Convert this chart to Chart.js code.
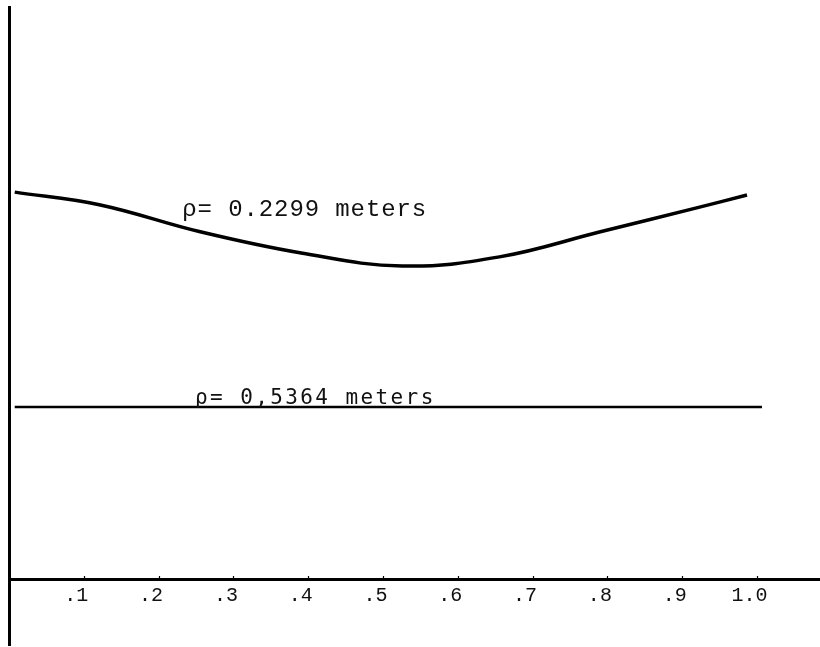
<!DOCTYPE html>
<html>
<head>
<meta charset="utf-8">
<script src="https://cdn.jsdelivr.net/npm/chart.js@4.4.1/dist/chart.umd.min.js"></script>
<style>
html,body{margin:0;padding:0;background:#fff;}
#wrap{width:820px;height:647px;}
</style>
</head>
<body>
<div id="wrap"><canvas id="c"></canvas></div>
<script>
// x positions (fraction) and curve values (arbitrary vertical units)
const curveX = [0.007, 0.12, 0.255, 0.39, 0.525, 0.655, 0.79, 0.92, 0.986];
const curveY = [4.01, 3.88, 3.60, 3.38, 3.245, 3.34, 3.60, 3.85, 3.98];
const flatX = [0.007, 1.006];
const flatY = [1.785, 1.785];
const tickValues = [0.1, 0.2, 0.3, 0.4, 0.5, 0.6, 0.7, 0.8, 0.9, 1.0];
const tickLabels = ['.1', '.2', '.3', '.4', '.5', '.6', '.7', '.8', '.9', '1.0'];
const curveLabels = [
  {text: 'ρ= 0.2299 meters', x: 0.231, y: 3.76, font: '24px "Liberation Mono"', spacing: '0.9px'},
  {text: 'ρ= 0,5364 meters', x: 0.248, y: 1.82, font: '21px "DejaVu Sans Mono"', spacing: '2.4px'}
];

const labelPlugin = {
  id: 'curveLabels',
  afterDatasetsDraw(chart) {
    const ctx = chart.ctx, xs = chart.scales.x, ys = chart.scales.y;
    ctx.save();
    ctx.fillStyle = '#111';
    ctx.textBaseline = 'alphabetic';
    ctx.textAlign = 'left';
    curveLabels.forEach(l => {
      ctx.font = l.font;
      if ('letterSpacing' in ctx) ctx.letterSpacing = l.spacing;
      ctx.fillText(l.text, xs.getPixelForValue(l.x), ys.getPixelForValue(l.y));
    });
    ctx.restore();
  }
};

new Chart(document.getElementById('c'), {
  type: 'line',
  data: {
    datasets: [
      {data: curveX.map((x, i) => ({x, y: curveY[i]})), borderColor: '#000', borderWidth: 3.5, pointRadius: 0, tension: 0.4, fill: false},
      {data: flatX.map((x, i) => ({x, y: flatY[i]})), borderColor: '#000', borderWidth: 2.5, pointRadius: 0, fill: false}
    ]
  },
  options: {
    responsive: true,
    maintainAspectRatio: false,
    animation: false,
    layout: {padding: {left: 9.5, top: 7, bottom: 2, right: 0}},
    plugins: {legend: {display: false}, tooltip: {enabled: false}},
    scales: {
      x: {
        type: 'linear',
        position: {y: 0},
        min: 0, max: 1.0836,
        afterBuildTicks: s => { s.ticks = tickValues.map(v => ({value: v})); },
        ticks: {
          callback: (v) => { const i = tickValues.findIndex(t => Math.abs(t - v) < 1e-9); return i >= 0 ? tickLabels[i] : ''; },
          color: '#111',
          font: {family: '"Liberation Mono"', size: 20},
          labelOffset: -8,
          padding: 9,
          maxRotation: 0, autoSkip: false
        },
        grid: {display: true, drawOnChartArea: false, drawTicks: true, tickLength: -5, tickWidth: 1.2, tickColor: '#000'},
        border: {display: true, color: '#000', width: 3}
      },
      y: {
        type: 'linear',
        position: {x: 0},
        min: -0.679, max: 5.927,
        ticks: {display: false},
        grid: {display: false, drawTicks: false},
        border: {display: true, color: '#000', width: 3}
      }
    }
  },
  plugins: [labelPlugin]
});
</script>
</body>
</html>
